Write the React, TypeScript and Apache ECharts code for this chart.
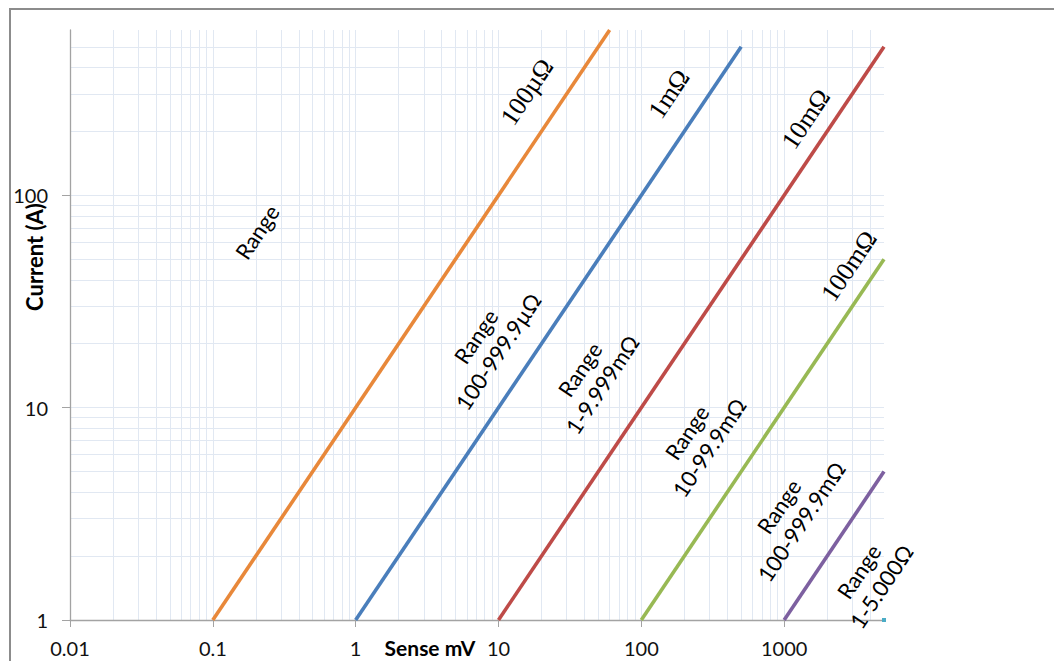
import React, { useEffect, useRef } from "react";
import * as echarts from "echarts";

// Sense voltage (mV) vs current (A) for each shunt resistance
const seriesNames = ["100µΩ", "1mΩ", "10mΩ", "100mΩ", "1Ω", "5Ω"];
const seriesColors = ["#E8883A", "#4A7EBB", "#BE4B48", "#98B954", "#7D60A0", "#4BACC6"];
const line100u: number[][] = [[0.1, 1], [60, 600]];
const line1m: number[][] = [[1, 1], [500, 500]];
const line10m: number[][] = [[10, 1], [5000, 500]];
const line100m: number[][] = [[100, 1], [5000, 50]];
const line1: number[][] = [[1000, 1], [5000, 5]];
const line5: number[][] = [[5000, 1]];
const seriesData = [line100u, line1m, line10m, line100m, line1, line5];

const xTicks = [0.01, 0.1, 1, 10, 100, 1000];
const yTicks = [1, 10, 100];
const xMin = 0.01, xMax = 5000, yMin = 1, yMax = 600;

const resistorLabels = [
  { text: "100µΩ", x: 527, y: 92 },
  { text: "1mΩ", x: 669, y: 94 },
  { text: "10mΩ", x: 806, y: 119 },
  { text: "100mΩ", x: 849, y: 266 },
];
const rangeLabels = [
  { text: "Range", x: 257, y: 232 },
  { text: "Range\n100-999.9µΩ", x: 487, y: 344 },
  { text: "Range\n1-9.999mΩ", x: 591, y: 377 },
  { text: "Range\n10-99.9mΩ", x: 698, y: 440 },
  { text: "Range\n100-999.9mΩ", x: 790, y: 514 },
  { text: "Range\n1-5.000Ω", x: 870, y: 579 },
];

function minorValues(lo: number, hi: number): number[] {
  const out: number[] = [];
  for (let d = Math.floor(Math.log10(lo)); d <= Math.ceil(Math.log10(hi)); d++) {
    for (let k = 2; k <= 9; k++) {
      const v = k * Math.pow(10, d);
      if (v > lo && v < hi) out.push(Number(v.toPrecision(3)));
    }
  }
  return out;
}

export default function App() {
  const ref = useRef<HTMLDivElement>(null);
  useEffect(() => {
    if (!ref.current) return;
    const chart = echarts.init(ref.current, null, { renderer: "svg" });
    const gridColor = "#e1e8f2";
    const axisColor = "#a3a3a3";
    const rot = (56.2 * Math.PI) / 180;
    const labelFont = "Lato, 'Open Sans', sans-serif";
    const minorMark = [
      ...minorValues(xMin, xMax).map((v) => ({ xAxis: v })),
      ...minorValues(yMin, yMax).map((v) => ({ yAxis: v })),
    ];
    const option: any = {
      animation: false,
      backgroundColor: "#ffffff",
      grid: { left: 70, top: 30, width: 814, height: 590, containLabel: false },
      xAxis: {
        type: "log",
        logBase: 10,
        min: xMin,
        max: xMax,
        z: 4,
        axisLine: { show: true, lineStyle: { color: axisColor, width: 1.3 } },
        axisTick: { show: true, customValues: xTicks, length: 7, lineStyle: { color: axisColor } },
        axisLabel: {
          customValues: xTicks,
          margin: 18,
          fontSize: 20,
          color: "#111",
          fontFamily: labelFont,
          formatter: (v: number) => String(v),
        },
        splitLine: { show: true, lineStyle: { color: gridColor, width: 1 } },
      },
      yAxis: {
        type: "log",
        logBase: 10,
        min: yMin,
        max: yMax,
        z: 4,
        axisLine: { show: true, lineStyle: { color: axisColor, width: 1.3 } },
        axisTick: { show: true, customValues: yTicks, length: 8, lineStyle: { color: axisColor } },
        axisLabel: {
          customValues: yTicks,
          margin: 22,
          fontSize: 20,
          color: "#111",
          fontFamily: labelFont,
          formatter: (v: number) => String(v),
        },
        splitLine: { show: true, lineStyle: { color: gridColor, width: 1 } },
      },
      series: [
        {
          type: "line",
          name: "grid",
          data: [],
          silent: true,
          z: 1,
          markLine: {
            silent: true,
            z: 1,
            symbol: ["none", "none"],
            label: { show: false },
            lineStyle: { color: gridColor, width: 1, type: "solid" },
            emphasis: { disabled: true },
            data: minorMark,
          },
        },
        ...seriesData.map((d, i) => ({
          type: "line",
          name: seriesNames[i],
          data: d,
          z: 6,
          showSymbol: d.length === 1,
          symbol: "rect",
          symbolSize: 4,
          itemStyle: { color: seriesColors[i] },
          lineStyle: { color: seriesColors[i], width: 3.6 },
          emphasis: { disabled: true },
        })),
      ],
      graphic: [
        {
          type: "rect",
          shape: { x: 10, y: 9, width: 1200, height: 800 },
          style: { fill: "none", stroke: "#8c8c8c", lineWidth: 2 },
          silent: true,
        },
        {
          type: "text",
          x: 34,
          y: 257,
          rotation: Math.PI / 2,
          style: {
            text: "Current (A)",
            fontSize: 22,
            fontWeight: "bold",
            fontFamily: labelFont,
            fill: "#000",
            align: "center",
            verticalAlign: "middle",
          },
        },
        {
          type: "text",
          x: 430,
          y: 647,
          style: {
            text: "Sense mV",
            fontSize: 21,
            fontWeight: "bold",
            fontFamily: labelFont,
            fill: "#000",
            align: "center",
            verticalAlign: "middle",
          },
        },
        ...resistorLabels.map((l) => ({
          type: "text",
          x: l.x,
          y: l.y,
          rotation: rot,
          z: 10,
          style: {
            text: l.text,
            fontSize: 26,
            fontFamily: "'Liberation Serif', 'DejaVu Serif', serif",
            fill: "#000",
            align: "center",
            verticalAlign: "middle",
          },
        })),
        ...rangeLabels.map((l) => ({
          type: "text",
          x: l.x,
          y: l.y,
          rotation: rot,
          z: 10,
          style: {
            text: l.text,
            fontSize: 22,
            lineHeight: 27,
            fontFamily: labelFont,
            fill: "#000",
            align: "center",
            verticalAlign: "middle",
          },
        })),
      ],
    };
    chart.setOption(option);
    return () => chart.dispose();
  }, []);
  return (
    <div
      ref={ref}
      style={{ position: "fixed", left: 0, top: 0, width: 1054, height: 661 }}
    />
  );
}
